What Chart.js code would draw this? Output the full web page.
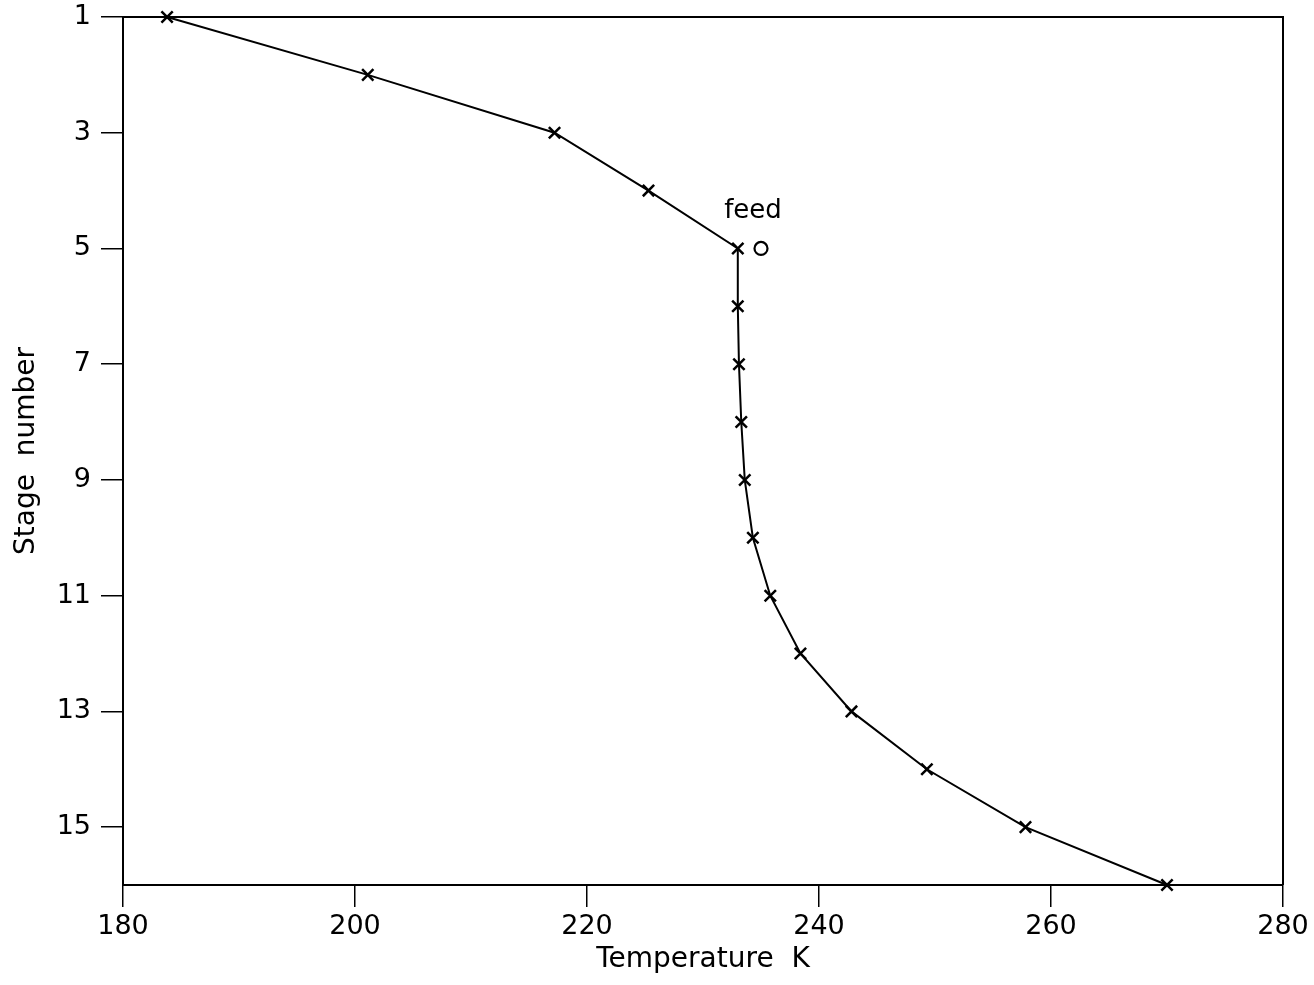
<!DOCTYPE html>
<html>
<head>
<meta charset="utf-8">
<title>Stage temperature profile</title>
<script src="https://cdn.jsdelivr.net/npm/chart.js@4/dist/chart.umd.min.js"></script>
<style>
  html, body { margin: 0; padding: 0; background: #fff; }
  #wrap { width: 1314px; height: 985px; }
</style>
</head>
<body>
<div id="wrap"><canvas id="profile"></canvas></div>
<script>
// stage temperatures (K), top of column = stage 1
const stages = [1, 2, 3, 4, 5, 6, 7, 8, 9, 10, 11, 12, 13, 14, 15, 16];
const temps = [183.8, 201.1, 217.2, 225.3, 233.0, 233.0, 233.1, 233.3, 233.6, 234.3, 235.8, 238.4, 242.8, 249.3, 257.8, 270.0];

// feed entry
const feedStage = [5];
const feedTemp = [235.0];
const feedLabel = 'feed';

const xTicks = [180, 200, 220, 240, 260, 280];
const yTicks = [1, 3, 5, 7, 9, 11, 13, 15];

const FONT = 'DejaVu Sans';
const ctx = document.getElementById('profile').getContext('2d');

const frame = {
    id: 'frame',
    afterDatasetsDraw(chart) {
        const {ctx, chartArea: a} = chart;
        ctx.save();
        ctx.strokeStyle = '#000';
        ctx.lineWidth = 2;
        ctx.beginPath();
        ctx.moveTo(a.left, a.top);
        ctx.lineTo(a.right, a.top);
        ctx.lineTo(a.right, a.bottom);
        ctx.stroke();
        ctx.restore();
    }
};

const feedText = {
    id: 'feedText',
    afterDatasetsDraw(chart) {
        const {ctx, scales} = chart;
        const x = scales.x.getPixelForValue(feedTemp[0]);
        const y = scales.y.getPixelForValue(feedStage[0]);
        ctx.save();
        ctx.fillStyle = '#000';
        ctx.font = '26px "' + FONT + '"';
        ctx.textAlign = 'center';
        ctx.textBaseline = 'middle';
        ctx.fillText(feedLabel, x - 8, y - 37);
        ctx.restore();
    }
};

new Chart(ctx, {
    type: 'scatter',
    data: {
        datasets: [{
            data: stages.map((s, i) => ({x: temps[i], y: s})),
            showLine: true,
            tension: 0,
            borderColor: '#000',
            borderWidth: 2,
            pointStyle: 'crossRot',
            pointRadius: 8,
            pointBorderWidth: 2.5,
            pointBorderColor: '#000',
            clip: false
        }, {
            data: feedStage.map((s, i) => ({x: feedTemp[i], y: s})),
            showLine: false,
            pointStyle: 'circle',
            pointRadius: 6.5,
            pointBorderWidth: 2.2,
            pointBorderColor: '#000',
            pointBackgroundColor: 'rgba(0,0,0,0)',
            clip: false
        }]
    },
    options: {
        responsive: true,
        maintainAspectRatio: false,
        animation: false,
        layout: {padding: {top: 17, right: 31, left: 0, bottom: 0}},
        plugins: {
            legend: {display: false},
            tooltip: {enabled: false}
        },
        scales: {
            x: {
                type: 'linear',
                min: 180,
                max: 280,
                afterFit(scale) {
                    scale.height = 100;
                    scale.paddingLeft = 0;
                    scale.paddingRight = 0;
                },
                afterBuildTicks(scale) { scale.ticks = xTicks.map(v => ({value: v})); },
                border: {display: true, color: '#000', width: 2},
                grid: {drawOnChartArea: false, drawTicks: true, tickLength: 22, color: '#000', lineWidth: 1.5},
                ticks: {color: '#000', padding: 4, font: {family: FONT, size: 27}, maxRotation: 0},
                title: {display: true, text: 'Temperature  K', color: '#000', font: {family: FONT, size: 28}, padding: {top: 0, bottom: 8}}
            },
            y: {
                type: 'linear',
                min: 1,
                max: 16,
                reverse: true,
                afterFit(scale) {
                    scale.width = 123;
                    scale.paddingTop = 0;
                    scale.paddingBottom = 0;
                },
                afterBuildTicks(scale) { scale.ticks = yTicks.map(v => ({value: v})); },
                border: {display: true, color: '#000', width: 2},
                grid: {drawOnChartArea: false, drawTicks: true, tickLength: 22, color: '#000', lineWidth: 1.5},
                ticks: {color: '#000', padding: 10, font: {family: FONT, size: 27}},
                title: {display: true, text: 'Stage  number', color: '#000', font: {family: FONT, size: 28}, padding: {top: 10, bottom: 0}}
            }
        }
    },
    plugins: [frame, feedText]
});
</script>
</body>
</html>
